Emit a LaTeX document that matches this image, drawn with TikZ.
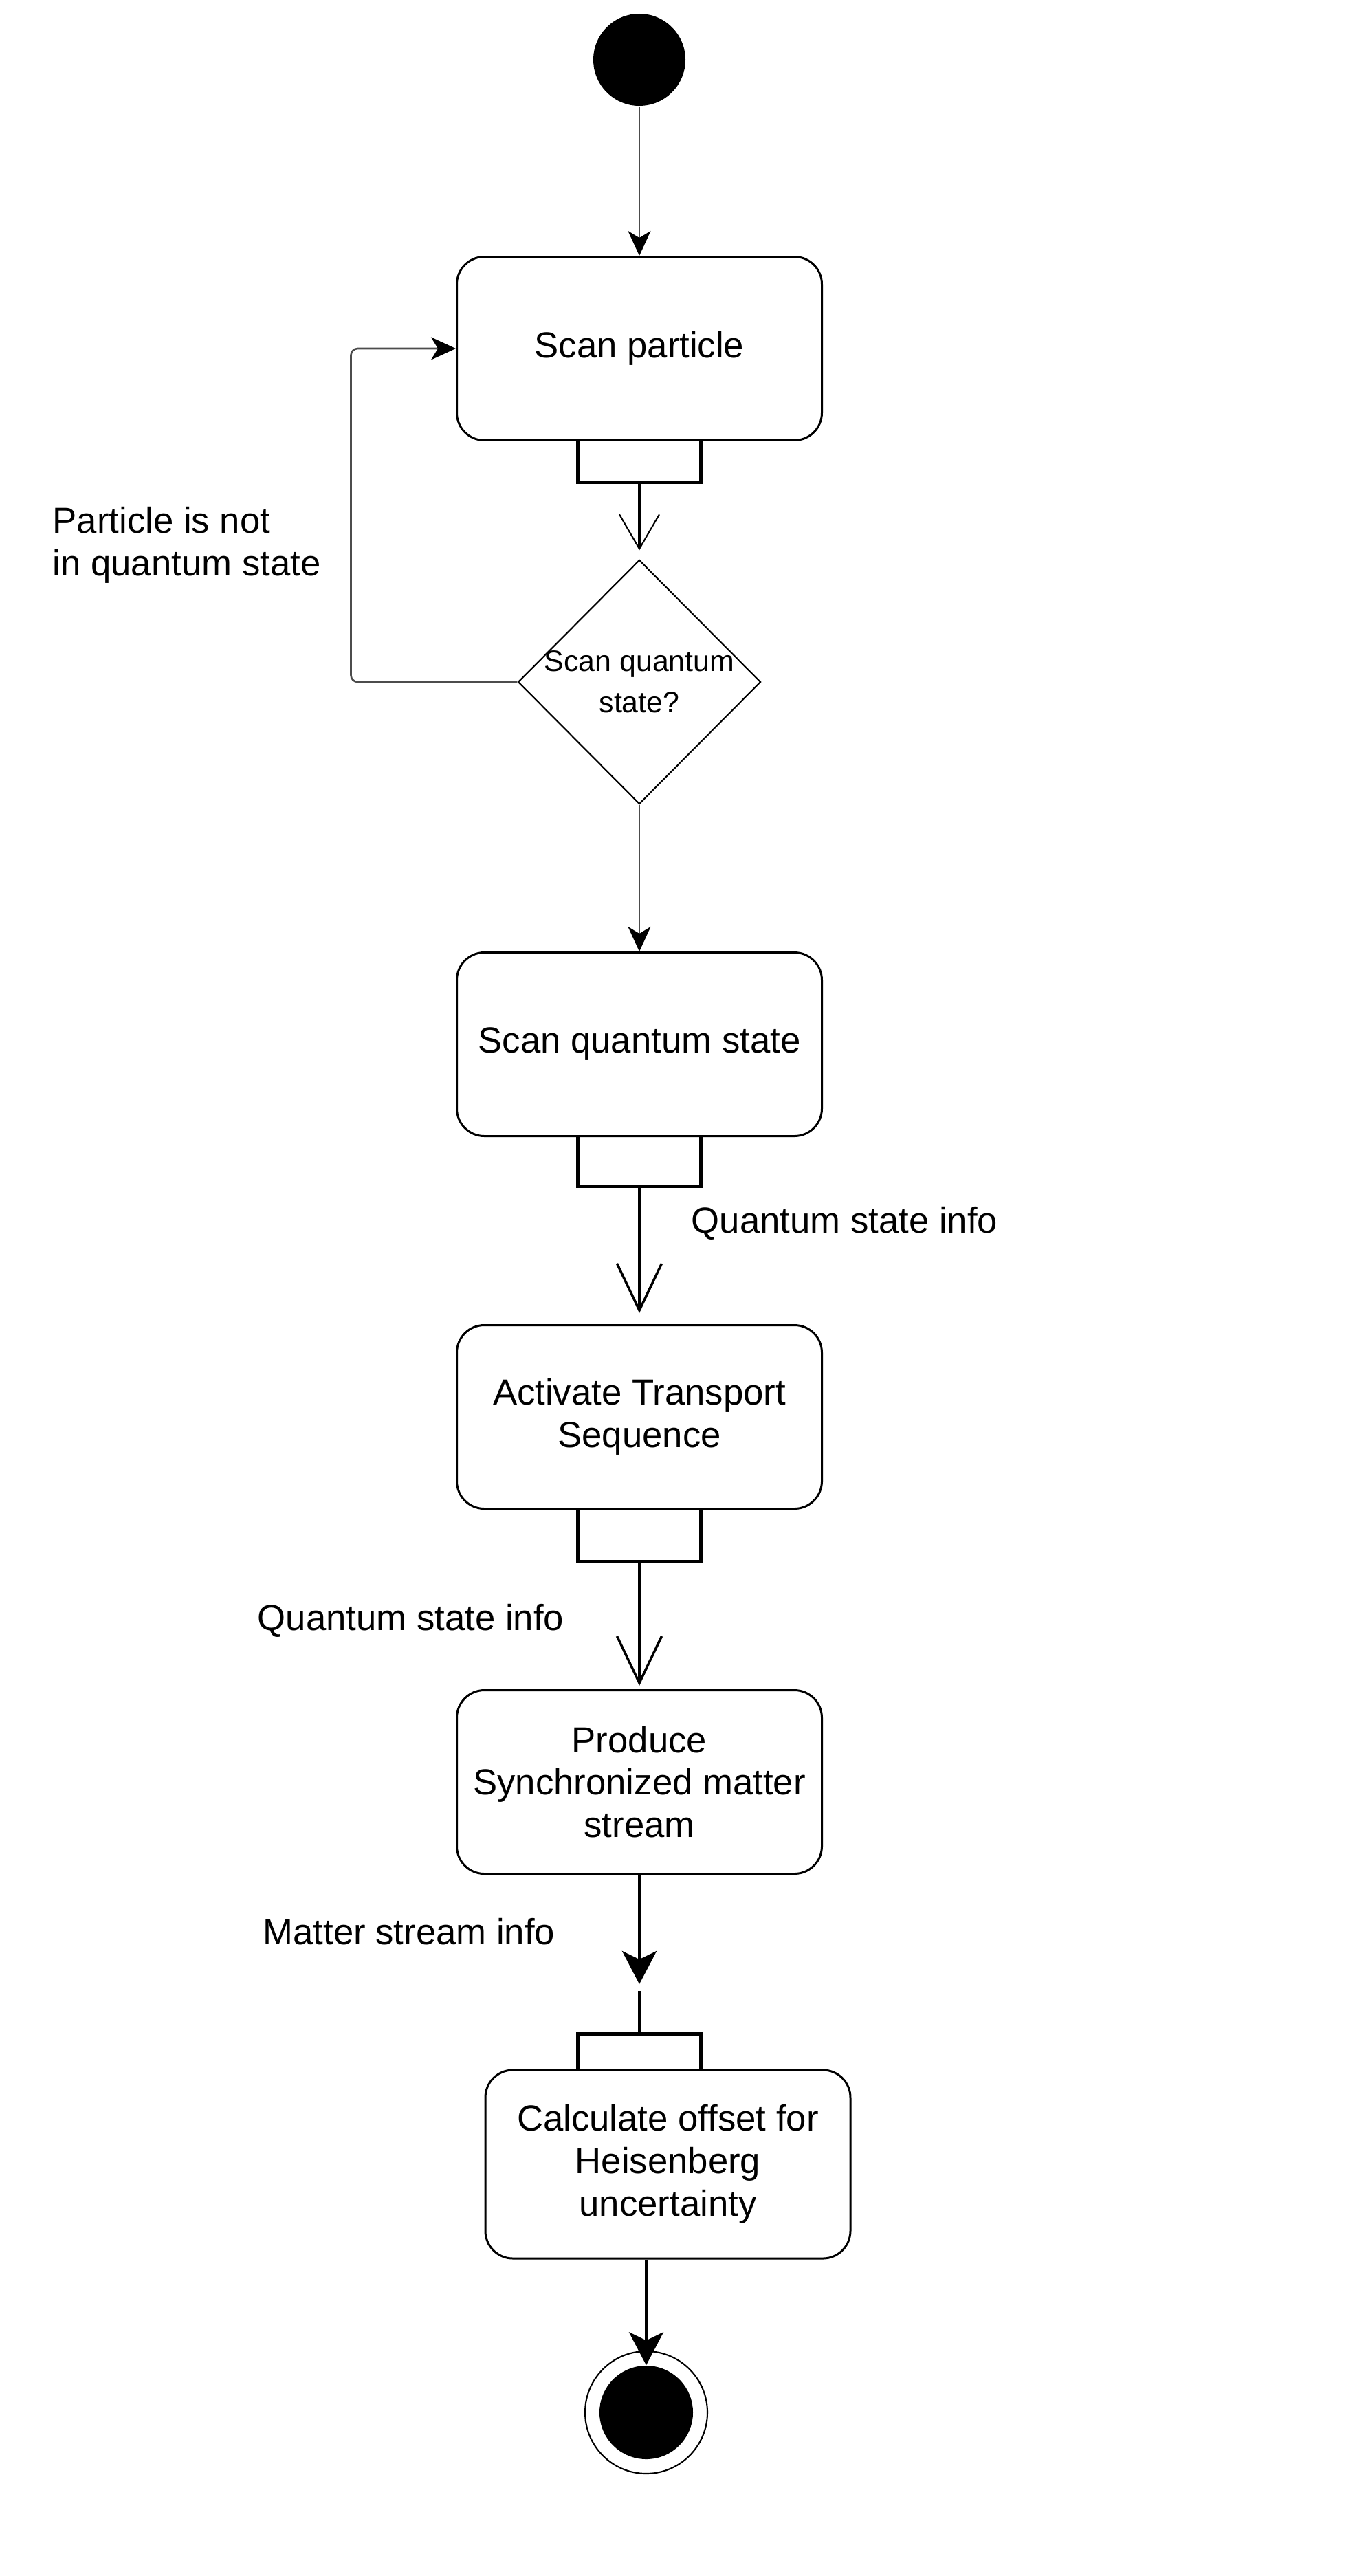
\documentclass[tikz,border=0pt]{standalone}
\usepackage{fontspec}
\setmainfont{Liberation Sans}
\usepackage{tikz}
\usetikzlibrary{shapes.geometric, arrows.meta, positioning}
\newcommand{\boxfont}{\fontsize{15}{17.6}\selectfont}
\newcommand{\diafont}{\fontsize{12.2}{17}\selectfont}

\begin{document}
\begin{tikzpicture}[
    box/.style={rectangle, rounded corners=0.4cm, draw, line width=0.85pt, minimum width=5.31cm, minimum height=2.67cm, align=center, font=\boxfont},
    pin/.style={rectangle, minimum width=1.78cm, minimum height=0.58cm, inner sep=0pt},
    pinedge/.style={line width=1.5pt},
    note/.style={font=\boxfont, align=left, inner sep=0pt},
    dot/.style={circle, fill=black, inner sep=0pt},
    arrow/.style={-{Stealth[length=0.36cm, width=0.33cm, inset=0.1cm, color=black]}, line width=0.75pt, draw=black!70},
    bigarrow/.style={-{Stealth[length=0.48cm, width=0.5cm, inset=0.12cm]}, line width=1.3pt},
    openarrow/.style={-{Straight Barb[length=0.68cm, width=0.65cm, line width=1pt]}, line width=1.3pt}
]
\useasboundingbox (0,0) rectangle (19.84,-37.47);

% start and first action
\node[dot, minimum size=1.34cm] (start) at (9.30,-0.87) {};
\node[box] (scan) at (9.30,-5.07) {Scan particle};
\node[pin, below=0cm of scan] (pin1) {};
\draw[pinedge] (pin1.north west) -- (pin1.south west) -- (pin1.south east) -- (pin1.north east);
\draw[arrow] (start) -- (scan);

% decision
\node[diamond, draw, line width=0.6pt, minimum width=3.53cm, minimum height=3.55cm, inner sep=0pt,
      label={[font=\diafont, align=center]center:{Scan quantum\\state?}}] (check) at (9.30,-9.92) {};
\draw[line width=1.3pt, -{Straight Barb[length=0.5cm, width=0.58cm, line width=0.6pt]}, shorten >=0.13cm] (pin1.south) -- (check.north);
\draw[arrow, rounded corners=0.1cm] (check.west) -- ++(-2.42,0) |- (scan.west);
\node[note, anchor=west] (notquant) at (0.76,-7.93) {Particle is not\\in quantum state};

% scan quantum state
\node[box] (quant) at (9.30,-15.19) {Scan quantum state};
\node[pin, below=0cm of quant, minimum height=0.70cm] (pin2) {};
\draw[pinedge] (pin2.north west) -- (pin2.south west) -- (pin2.south east) -- (pin2.north east);
\draw[arrow] (check.south) -- (quant.north);

% transport
\node[box] (act) at (9.30,-20.61) {Activate Transport\\Sequence};
\node[pin, below=0cm of act, minimum height=0.74cm] (pin3) {};
\draw[pinedge] (pin3.north west) -- (pin3.south west) -- (pin3.south east) -- (pin3.north east);
\draw[openarrow, shorten >=0.16cm] (pin2.south) -- (act.north);
\node[note, anchor=west] (infoa) at (10.05,-17.79) {Quantum state info};

% matter stream
\node[box] (prod) at (9.30,-25.92) {Produce\\Synchronized matter\\stream};
\draw[openarrow, shorten >=0.05cm] (pin3.south) -- (prod.north);
\node[note, anchor=east] (infob) at (8.21,-23.57) {Quantum state info};

\coordinate (gaptip) at (9.30,-28.86);
\coordinate (gapend) at (9.30,-28.96);
\draw[bigarrow] (prod.south) -- (gaptip);
\node[note, anchor=east] (infoc) at (8.08,-28.10) {Matter stream info};

% offset calculation
\node[box, minimum height=2.74cm] (calc) at (9.715,-31.48) {Calculate offset for\\Heisenberg\\uncertainty};
\node[pin, minimum height=0.50cm, anchor=south] (pin4) at (calc.north -| start) {};
\draw[pinedge] (pin4.south west) -- (pin4.north west) -- (pin4.north east) -- (pin4.south east);
\draw[line width=1.3pt] (gapend) -- (pin4.north);

% final node
\node[circle, draw, line width=0.6pt, minimum size=1.78cm, inner sep=0pt] (stop) at (9.40,-35.09) {};
\node[dot, minimum size=1.36cm] (stopdot) at (stop) {};
\draw[bigarrow] (calc.south -| stop) -- (stopdot.north);

\end{tikzpicture}
\end{document}
